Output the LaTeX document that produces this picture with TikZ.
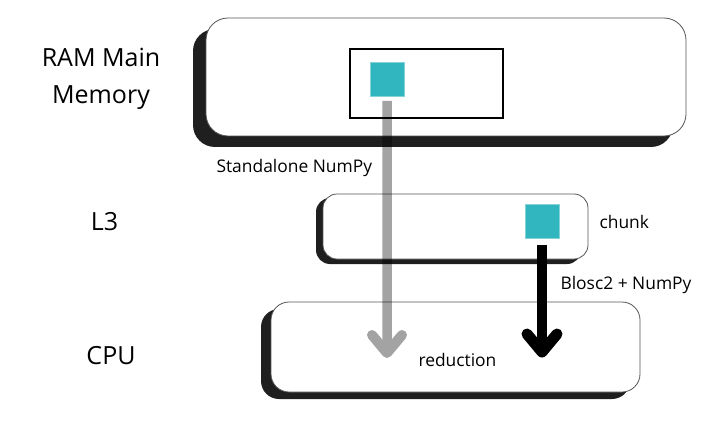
\documentclass[tikz,border=0pt]{standalone}
\usepackage{fontspec}
\setmainfont{Open Sans}
\definecolor{teal1}{HTML}{31B6C0}
\definecolor{edge1}{HTML}{555555}
\begin{document}
\begin{tikzpicture}[x=1pt,y=-1pt,
  membox/.style={draw=edge1,line width=0.8pt,fill=white,rounded corners=22pt},
  shadowbox/.style={fill=black!88,rounded corners=22pt},
  cell/.style={fill=teal1,draw=teal1!60!white,line width=0.5pt},
  biglabel/.style={font=\fontsize{25}{37}\selectfont,align=center},
  smalllabel/.style={font=\fontsize{17.4}{22}\selectfont},
  chev/.style={line width=10pt,line cap=round,line join=round}]
\useasboundingbox (0,0) rectangle (720,433);
% RAM
\fill[shadowbox] (193,29) rectangle (673,147);
\draw[membox] (206,18) rectangle (686,136);
\node[draw=black,line width=2pt,minimum width=153pt,minimum height=69pt,inner sep=0pt] (win) at (426.5,83.5) {};
\node[cell,minimum width=34pt,minimum height=34pt,inner sep=0pt] (sq1) at (387,79) {};
% L3
\fill[shadowbox,rounded corners=14pt] (316,198) rectangle (581,264);
\draw[membox,rounded corners=14pt] (323,194) rectangle (588,259);
\node[cell,minimum width=34pt,minimum height=34pt,inner sep=0pt] (sq2) at (542,221.5) {};
% CPU
\fill[shadowbox,rounded corners=18pt] (261,309) rectangle (630,399);
\draw[membox,rounded corners=18pt] (271,302) rectangle (640,392);
% coordinates
\coordinate (g1) at (387,101);
\coordinate (gtip) at (387,353);
\coordinate (b1) at (542,245);
\coordinate (btip) at (542,352);
% gray arrow
\begin{scope}[transparency group,opacity=0.36]
\draw[line width=9.5pt,black] (g1) -- (gtip);
\draw[chev,black] ([xshift=-15pt,yshift=18pt]gtip) -- (gtip) -- ([xshift=15pt,yshift=18pt]gtip);
\end{scope}
% black arrow
\draw[line width=10pt,black] (b1) -- (btip);
\draw[chev,line width=11pt,black] ([xshift=-15pt,yshift=18pt]btip) -- (btip) -- ([xshift=15pt,yshift=18pt]btip);
% labels
\node[biglabel] (lram) at (101,79) {RAM Main\\Memory};
\node[biglabel] (ll3) at (104.5,222) {L3};
\node[biglabel] (lcpu) at (111,356) {CPU};
\node[smalllabel,anchor=west] (lsn) at (213,168) {Standalone NumPy};
\node[smalllabel,anchor=west] (lch) at (596,222) {chunk};
\node[smalllabel,anchor=west] (lbl) at (557,285) {Blosc2 + NumPy};
\node[smalllabel,anchor=west] (lred) at (415,360) {reduction};
\end{tikzpicture}
\end{document}
